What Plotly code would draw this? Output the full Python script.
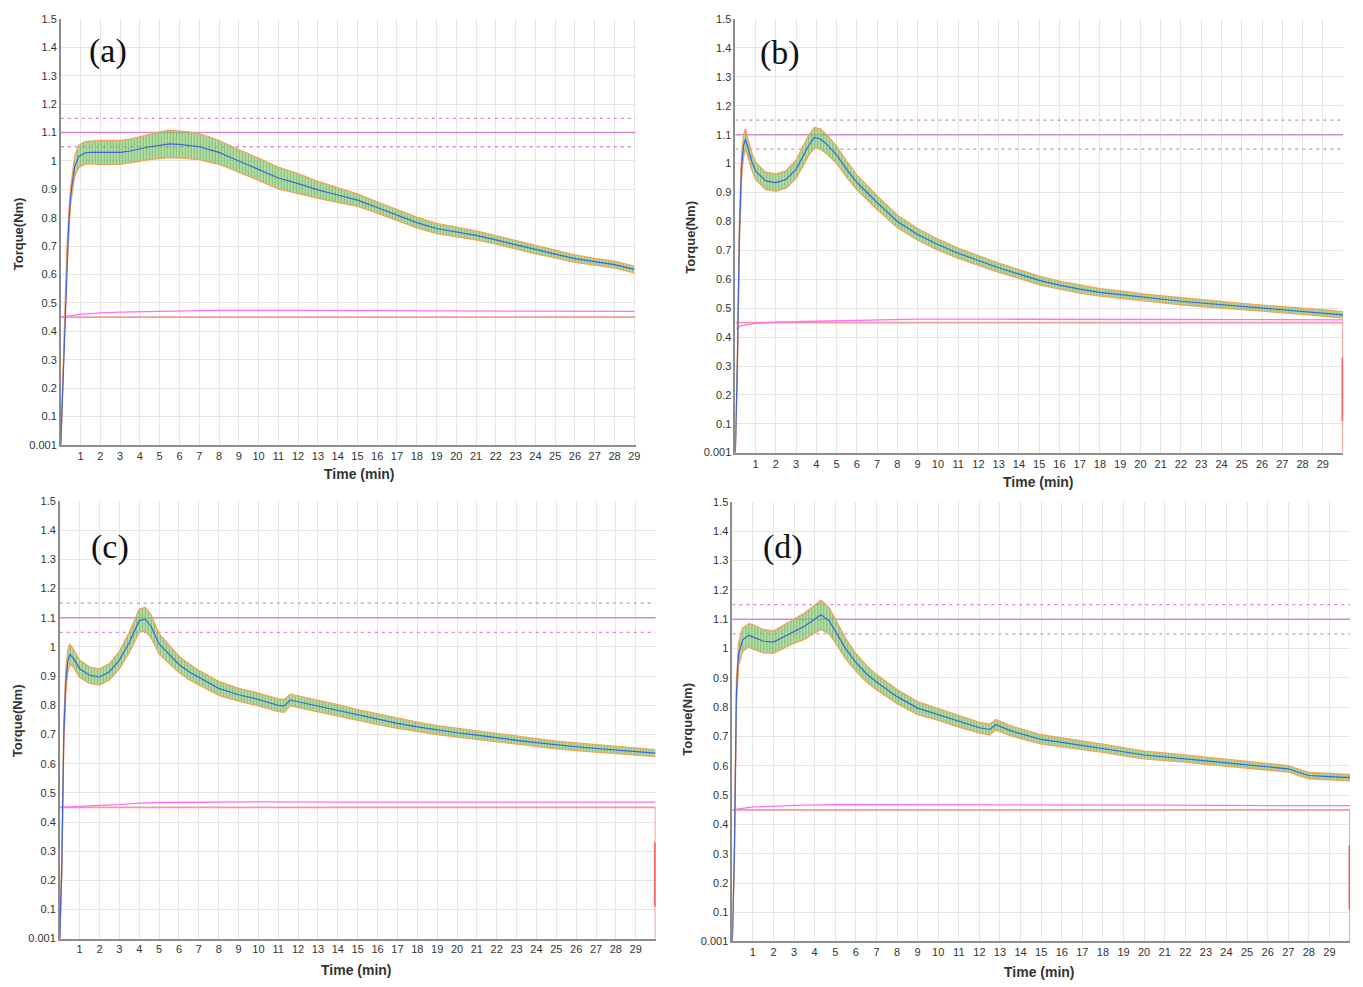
import plotly.graph_objects as go

# page body has an 8px default margin: size the figure so it fills the window
OFF = 8
W, H = 1363 - OFF, 987 - OFF

# ---------------- data ----------------
t_a = [0, 0.1, 0.2, 0.3, 0.4, 0.5, 0.7, 0.9, 1.2, 1.5, 2, 2.5, 3, 3.5, 4, 4.5, 5, 5.5, 6, 6.5,
       7, 7.5, 8, 8.5, 9, 9.5, 10, 11, 12, 13, 14, 15, 16, 17, 18, 19, 20, 21, 22, 23,
       24, 25, 26, 27, 28, 29]
mean_a = [0.001, 0.2, 0.45, 0.65, 0.78, 0.88, 0.98, 1.015, 1.028, 1.03,
          1.03, 1.03, 1.03, 1.035, 1.043, 1.05, 1.055, 1.06, 1.058, 1.055,
          1.05, 1.04, 1.03, 1.015, 1.0, 0.985, 0.97, 0.94, 0.92, 0.898,
          0.88, 0.862, 0.836, 0.81, 0.783, 0.762, 0.75, 0.738, 0.722, 0.705,
          0.687, 0.672, 0.656, 0.645, 0.635, 0.618]
spread_a = [0, 0.02, 0.03, 0.03, 0.03, 0.03, 0.035, 0.04, 0.04, 0.04,
            0.042, 0.042, 0.042, 0.042, 0.043, 0.045, 0.047, 0.048, 0.048, 0.047,
            0.045, 0.045, 0.042, 0.04, 0.04, 0.04, 0.04, 0.038, 0.035, 0.03,
            0.026, 0.022, 0.02, 0.02, 0.019, 0.018, 0.017, 0.016, 0.015, 0.015,
            0.014, 0.013, 0.013, 0.012, 0.012, 0.012]
mag_t_a = [0, 0.5, 1, 2, 3, 5, 8, 12, 16, 20, 24, 29]
mag_a = [0.45, 0.455, 0.46, 0.465, 0.468, 0.47, 0.474, 0.474, 0.473, 0.472, 0.47, 0.47]

t_b = [0, 0.1, 0.2, 0.3, 0.4, 0.5, 0.6, 0.8, 1, 1.5, 2, 2.5, 3, 3.3, 3.6, 3.9, 4.2, 4.5, 5, 5.5,
       6, 6.5, 7, 8, 9, 10, 11, 12, 13, 14, 15, 16, 17, 18, 19, 20, 21, 22, 23, 24,
       25, 26, 27, 28, 29, 30]
mean_b = [0.001, 0.3, 0.75, 0.98, 1.06, 1.085, 1.06, 1.01, 0.975, 0.94,
          0.934, 0.945, 0.98, 1.02, 1.06, 1.09, 1.085, 1.068, 1.03, 0.98,
          0.935, 0.9, 0.865, 0.8, 0.755, 0.72, 0.69, 0.665, 0.64, 0.618,
          0.596, 0.58, 0.566, 0.555, 0.547, 0.538, 0.531, 0.524, 0.518, 0.512,
          0.506, 0.5, 0.495, 0.49, 0.484, 0.477]
spread_b = [0, 0.03, 0.04, 0.04, 0.04, 0.035, 0.03, 0.03, 0.03, 0.03,
            0.03, 0.03, 0.032, 0.033, 0.035, 0.035, 0.035, 0.033, 0.03, 0.028,
            0.026, 0.025, 0.024, 0.022, 0.02, 0.019, 0.018, 0.017, 0.016, 0.015,
            0.015, 0.014, 0.014, 0.013, 0.013, 0.012, 0.012, 0.012, 0.012, 0.011,
            0.011, 0.011, 0.011, 0.011, 0.011, 0.011]
mag_t_b = [0.05, 0.3, 1, 2, 4, 6, 9, 13, 17, 21, 25, 30]
mag_b = [0.43, 0.44, 0.448, 0.452, 0.455, 0.458, 0.462, 0.462, 0.461, 0.46, 0.46, 0.46]

t_c = [0, 0.1, 0.2, 0.3, 0.4, 0.5, 0.7, 1, 1.5, 2, 2.5, 3, 3.5, 4, 4.3, 4.6, 5, 5.5, 6, 6.5,
       7, 8, 9, 10, 11, 11.3, 11.6, 12, 13, 14, 15, 16, 17, 18, 19, 20, 21, 22, 23, 24,
       25, 26, 27, 28, 29, 30]
mean_c = [0.001, 0.25, 0.7, 0.88, 0.95, 0.975, 0.96, 0.925, 0.903, 0.897,
          0.915, 0.955, 1.015, 1.09, 1.095, 1.07, 1.01, 0.975, 0.94, 0.915,
          0.895, 0.858, 0.836, 0.82, 0.8, 0.798, 0.818, 0.812, 0.798, 0.782,
          0.766, 0.752, 0.738, 0.726, 0.715, 0.706, 0.698, 0.688, 0.68, 0.672,
          0.664, 0.658, 0.652, 0.646, 0.641, 0.636]
spread_c = [0, 0.03, 0.04, 0.04, 0.04, 0.035, 0.03, 0.03, 0.028, 0.028,
            0.028, 0.03, 0.035, 0.04, 0.04, 0.04, 0.035, 0.03, 0.028, 0.027,
            0.025, 0.024, 0.022, 0.022, 0.022, 0.022, 0.02, 0.02, 0.02, 0.02,
            0.019, 0.018, 0.017, 0.016, 0.015, 0.015, 0.015, 0.015, 0.014, 0.014,
            0.013, 0.013, 0.013, 0.012, 0.012, 0.012]
mag_t_c = [0, 0.5, 1, 2, 3, 4, 5, 7, 10, 14, 18, 22, 26, 30]
mag_c = [0.45, 0.452, 0.455, 0.457, 0.46, 0.465, 0.467, 0.468, 0.469, 0.468, 0.468, 0.467, 0.467, 0.468]

t_d = [0, 0.1, 0.2, 0.3, 0.5, 0.8, 1, 1.5, 2, 2.5, 3, 3.5, 4, 4.3, 4.7, 5, 5.5, 6, 6.5, 7,
       8, 9, 10, 11, 12, 12.5, 12.8, 13.5, 15, 16, 17, 18, 19, 20, 21, 22, 23, 24, 25, 26,
       27, 27.5, 28, 29, 30]
mean_d = [0.001, 0.3, 0.85, 0.98, 1.03, 1.045, 1.04, 1.025, 1.022, 1.04,
          1.06, 1.076, 1.1, 1.115, 1.095, 1.06, 1.0, 0.953, 0.915, 0.886,
          0.836, 0.797, 0.775, 0.752, 0.73, 0.724, 0.74, 0.72, 0.69, 0.68,
          0.67, 0.66, 0.648, 0.637, 0.631, 0.625, 0.617, 0.61, 0.604, 0.597,
          0.59, 0.578, 0.567, 0.563, 0.56]
spread_d = [0, 0.03, 0.04, 0.04, 0.04, 0.04, 0.042, 0.04, 0.038, 0.04,
            0.042, 0.045, 0.048, 0.05, 0.045, 0.04, 0.035, 0.03, 0.028, 0.026,
            0.024, 0.022, 0.02, 0.02, 0.018, 0.018, 0.018, 0.017, 0.016, 0.015,
            0.015, 0.014, 0.014, 0.013, 0.013, 0.012, 0.012, 0.012, 0.012, 0.011,
            0.011, 0.011, 0.011, 0.011, 0.011]
mag_t_d = [0, 0.5, 1, 2, 3, 5, 8, 12, 16, 20, 24, 28, 30]
mag_d = [0.45, 0.455, 0.46, 0.462, 0.465, 0.468, 0.468, 0.468, 0.467, 0.466, 0.465, 0.464, 0.464]

target_level = 1.1
tol_hi, tol_lo = 1.15, 1.05
base_level = 0.45
red_bar = [0.11, 0.33]

x_ticks = list(range(1, 30))
y_ticks = [0.001] + [round(0.1 * i, 1) for i in range(1, 16)]
y_tick_text = ["0.001"] + ["1" if v == 1.0 else f"{v:g}" for v in y_ticks[1:]]

panel_labels = ["(a)", "(b)", "(c)", "(d)"]

# ---------------- layout geometry (window pixels) ----------------
panels = [
    dict(t=t_a, m=mean_a, s=spread_a, mt=mag_t_a, mg=mag_a, xmax=29.07, box=False,
         px=(61, 638), py=(13, 444), lab=(108, 45), xt=(361, 474), yt=(18, 230)),
    dict(t=t_b, m=mean_b, s=spread_b, mt=mag_t_b, mg=mag_b, xmax=30, box=True,
         px=(738, 1348), py=(13, 452), lab=(783, 47), xt=(1042, 482), yt=(693, 234)),
    dict(t=t_c, m=mean_c, s=spread_c, mt=mag_t_c, mg=mag_c, xmax=30, box=True,
         px=(60, 658), py=(501, 944), lab=(110, 548), xt=(358, 976), yt=(17, 723)),
    dict(t=t_d, m=mean_d, s=spread_d, mt=mag_t_d, mg=mag_d, xmax=30, box=True,
         px=(735, 1355), py=(502, 947), lab=(786, 548), xt=(1043, 978), yt=(690, 722)),
]


def fx(px):
    return (px - OFF) / W


def fy(py):
    return 1 - (py - OFF) / H


fig = go.Figure()
annotations = []
layout_axes = {}

for i, p in enumerate(panels):
    n = "" if i == 0 else str(i + 1)
    xa, ya = "x" + n, "y" + n
    xmax = p["xmax"]
    upper = [m + s for m, s in zip(p["m"], p["s"])]
    lower = [max(0.001, m - s) for m, s in zip(p["m"], p["s"])]

    for lvl, dash, wdt in [(tol_hi, "3px,4px", 1.3), (tol_lo, "3px,4px", 1.3), (target_level, "solid", 1.5)]:
        fig.add_trace(go.Scatter(x=[0, xmax], y=[lvl, lvl], mode="lines", xaxis=xa, yaxis=ya,
                                 line=dict(color="#d28ad8", width=wdt, dash=dash),
                                 showlegend=False, hoverinfo="skip"))
    if p["box"]:
        rx, ry = [0, xmax, xmax], [base_level, base_level, 0.001]
    else:
        rx, ry = [0, xmax], [base_level, base_level]
    fig.add_trace(go.Scatter(x=rx, y=ry, mode="lines", xaxis=xa, yaxis=ya,
                             line=dict(color="#f59a9a", width=1.8),
                             showlegend=False, hoverinfo="skip"))
    if p["box"]:
        fig.add_trace(go.Scatter(x=[xmax, xmax], y=red_bar, mode="lines", xaxis=xa, yaxis=ya,
                                 line=dict(color="#ff5a5a", width=3),
                                 showlegend=False, hoverinfo="skip"))
    fig.add_trace(go.Scatter(x=p["mt"], y=p["mg"], mode="lines", xaxis=xa, yaxis=ya,
                             line=dict(color="#ff6eff", width=1.3),
                             showlegend=False, hoverinfo="skip"))
    fig.add_trace(go.Scatter(x=p["t"], y=upper, mode="lines", xaxis=xa, yaxis=ya,
                             line=dict(color="#f5a25d", width=1.3),
                             showlegend=False, hoverinfo="skip"))
    fig.add_trace(go.Scatter(x=p["t"], y=lower, mode="lines", xaxis=xa, yaxis=ya,
                             line=dict(color="#f5a25d", width=1.3),
                             fill="tonexty", fillcolor="rgba(150,205,120,0.6)",
                             fillpattern=dict(shape="|", fgcolor="#2f9a2a",
                                              bgcolor="rgba(165,215,140,0.6)",
                                              size=3, solidity=0.5),
                             showlegend=False, hoverinfo="skip"))
    fig.add_trace(go.Scatter(x=p["t"], y=p["m"], mode="lines", xaxis=xa, yaxis=ya,
                             line=dict(color="#3f63dc", width=1.2),
                             showlegend=False, hoverinfo="skip"))

    dx = [fx(p["px"][0]), fx(p["px"][1])]
    dy = [fy(p["py"][1]), fy(p["py"][0])]
    common = dict(showgrid=True, gridcolor="#e6e6e6", gridwidth=1, zeroline=False,
                  showline=True, linecolor="#8c8c8c", linewidth=1.5,
                  tickfont=dict(family="Liberation Sans, Arial", size=11, color="#333"),
                  ticks="", fixedrange=True)
    layout_axes["xaxis" + n] = dict(domain=dx, range=[0, xmax], anchor=ya,
                                   tickmode="array", tickvals=x_ticks,
                                   ticktext=[str(v) for v in x_ticks], **common)
    layout_axes["yaxis" + n] = dict(domain=dy, range=[0.001, 1.5], anchor=xa,
                                   tickmode="array", tickvals=y_ticks, ticktext=y_tick_text,
                                   **common)

    annotations.append(dict(text=panel_labels[i], x=fx(p["lab"][0]), y=fy(p["lab"][1]),
                            xref="paper", yref="paper", showarrow=False,
                            xanchor="center", yanchor="middle",
                            font=dict(family="Liberation Serif, Times New Roman", size=34, color="#111")))
    annotations.append(dict(text="<b>Time (min)</b>", x=fx(p["xt"][0]), y=fy(p["xt"][1]),
                            xref="paper", yref="paper", showarrow=False,
                            xanchor="center", yanchor="middle",
                            font=dict(family="Liberation Sans, Arial", size=14, color="#333")))
    annotations.append(dict(text="<b>Torque(Nm)</b>", x=fx(p["yt"][0]), y=fy(p["yt"][1]),
                            xref="paper", yref="paper", showarrow=False, textangle=-90,
                            xanchor="center", yanchor="middle",
                            font=dict(family="Liberation Sans, Arial", size=13, color="#333")))

fig.update_layout(width=W, height=H, margin=dict(l=0, r=0, t=0, b=0),
                  paper_bgcolor="white", plot_bgcolor="white",
                  annotations=annotations, **layout_axes)

fig.write_html("out.html")
